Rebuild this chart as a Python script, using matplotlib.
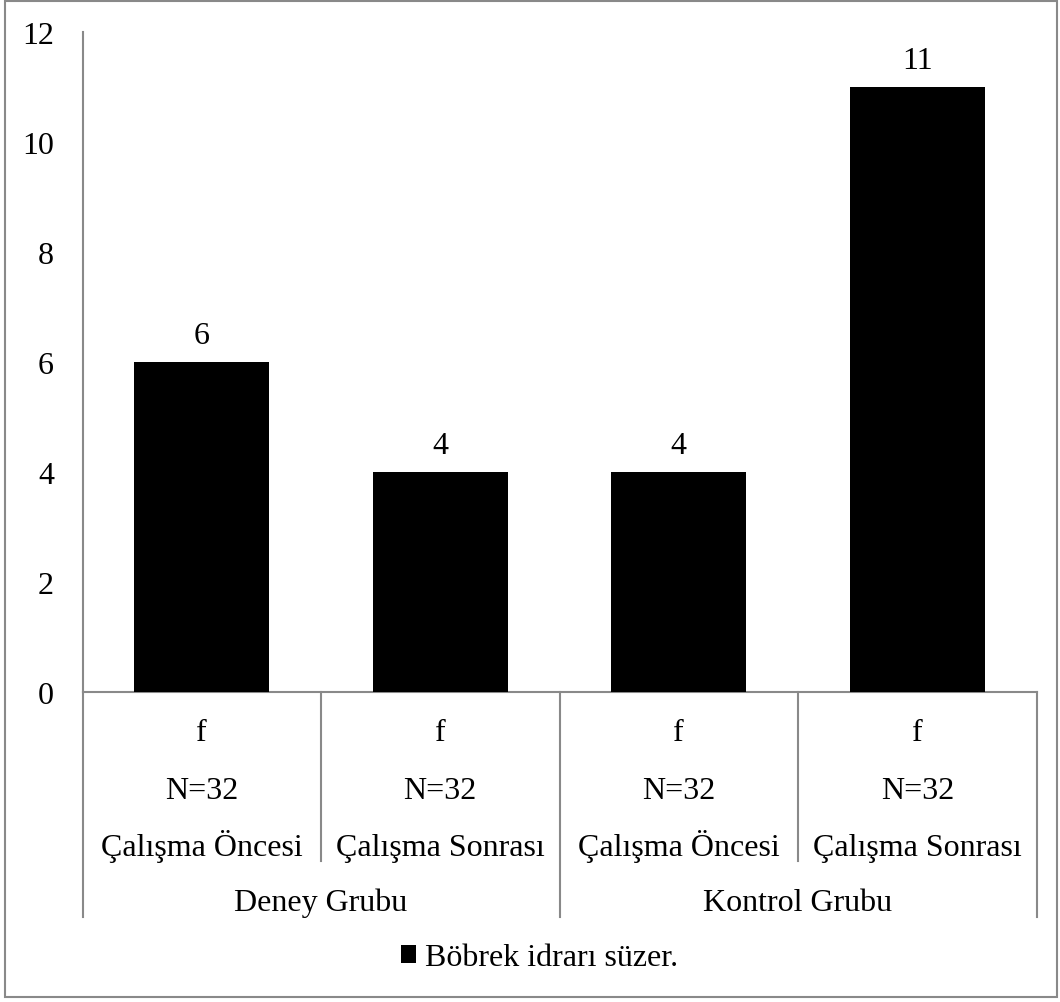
"""Bar chart of kidney-function answers with a two-level category axis."""

import matplotlib
import matplotlib.pyplot as plt
from matplotlib.lines import Line2D
from matplotlib.patches import Rectangle

matplotlib.use("Agg")

plt.rcParams["font.family"] = ["Liberation Serif", "DejaVu Serif"]

# data
values = [6, 4, 4, 11]
stat_labels = ["f", "f", "f", "f"]
n_labels = ["N=32", "N=32", "N=32", "N=32"]
phase_labels = ["Çalışma Öncesi", "Çalışma Sonrası", "Çalışma Öncesi", "Çalışma Sonrası"]
groups = ["Deney Grubu", "Kontrol Grubu"]
series_name = "Böbrek idrarı süzer."
y_ticks = [0, 2, 4, 6, 8, 10, 12]

W, H = 1060, 1003
FS = 23
GREY = "#898989"

fig = plt.figure(figsize=(W / 100, H / 100), dpi=100)

# plot area in pixels: x 82.5..1036.5, y 33..693
ax_left, ax_right, ax_top, ax_bot = 82.5, 1036.5, 33, 693
ax = fig.add_axes([ax_left / W, 1 - ax_bot / H, (ax_right - ax_left) / W, (ax_bot - ax_top) / H])
ax_h = ax_bot - ax_top

x = list(range(len(values)))
bars = ax.bar(x, values, width=0.566, color="black", label=series_name, zorder=3)
for xi, v in zip(x, values):
    ax.annotate(str(v), (xi, v), xytext=(0, 13.5), textcoords="offset points",
                ha="center", va="baseline", fontsize=FS)

ax.set_xlim(-0.5, len(values) - 0.5)
ax.set_ylim(0, 12)
ax.set_yticks(y_ticks)
ax.set_yticklabels([str(t) for t in y_ticks], fontsize=FS)
ax.tick_params(axis="y", length=0, pad=20.5)
ax.set_xticks([])
for side in ("top", "right"):
    ax.spines[side].set_visible(False)
for side in ("left", "bottom"):
    ax.spines[side].set_color(GREY)
    ax.spines[side].set_linewidth(1.5)

# multi-level category labels under the axis
trans = ax.get_xaxis_transform()


def frac(px):
    """Pixel row below the plot area -> axes fraction."""
    return (ax_bot - px) / ax_h


for xi in x:
    ax.text(xi, frac(741), stat_labels[xi], transform=trans, ha="center", va="baseline", fontsize=FS)
    ax.text(xi, frac(799), n_labels[xi], transform=trans, ha="center", va="baseline", fontsize=FS)
    ax.text(xi, frac(856), phase_labels[xi], transform=trans, ha="center", va="baseline", fontsize=FS)
for gi, g in enumerate(groups):
    ax.text(gi * 2 + 0.5, frac(911), g, transform=trans, ha="center", va="baseline", fontsize=FS)

# separators: full height between groups, shorter between sub-categories
for k in range(len(values) + 1):
    bottom = 918 if k % 2 == 0 else 862
    ax.add_line(Line2D([k - 0.5, k - 0.5], [0, frac(bottom)], transform=trans,
                       color=GREY, lw=1.5, clip_on=False))

fig.legend(handles=[bars], labels=[series_name], loc="center",
           bbox_to_anchor=(0.509, 1 - 959 / H), frameon=False, fontsize=FS,
           handlelength=0.47, handleheight=0.47, handletextpad=0.28, borderpad=0)

# chart border
fig.add_artist(Rectangle((5 / W, 1 - 998 / H), 1052 / W, 996 / H, transform=fig.transFigure,
                         fill=False, edgecolor=GREY, lw=1.5))

fig.savefig("out.png", dpi=100)
plt.close(fig)
